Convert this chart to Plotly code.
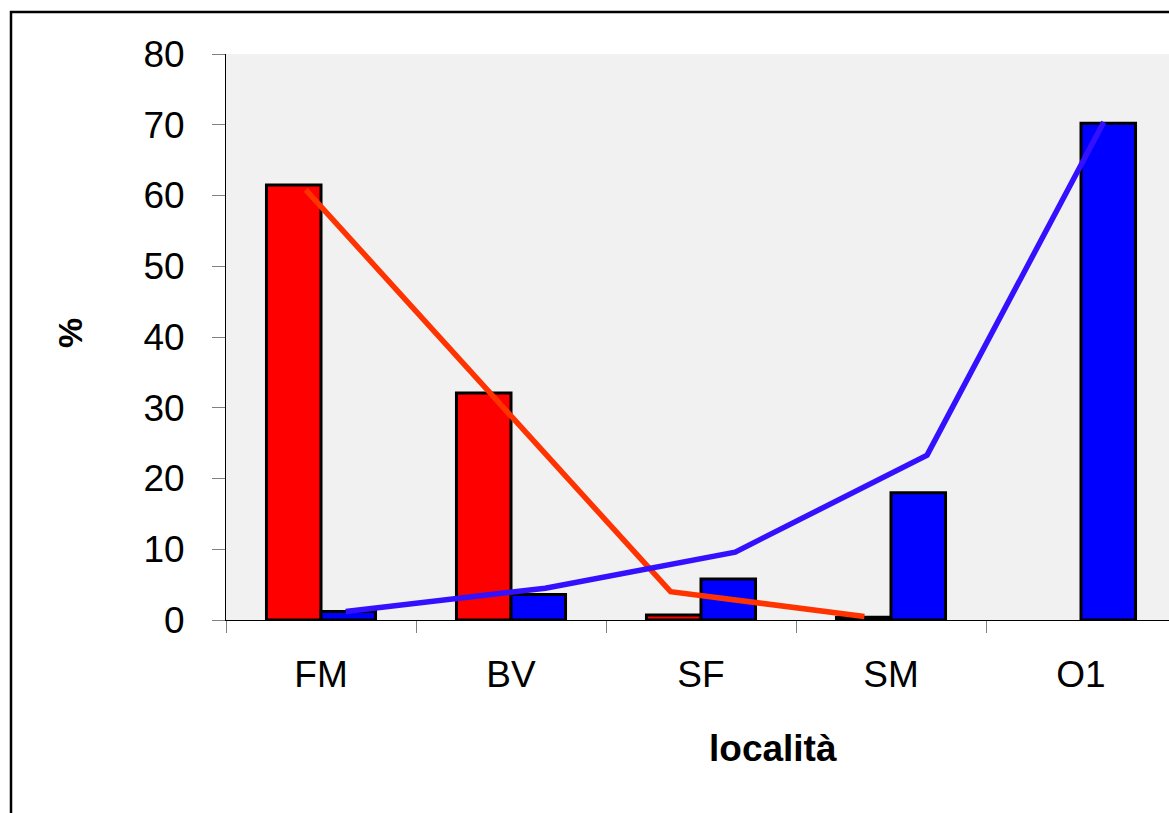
import plotly.graph_objects as go

# ---- data ----
categories = ["FM", "BV", "SF", "SM", "O1"]
red_bars = [61.5, 32.1, 0.7, 0.4, None]
blue_bars = [1.2, 3.6, 5.8, 18.0, 70.2]

# hand-drawn trend lines (x as fractional category positions)
red_line_x = [-0.08, 0.90, 1.84, 2.86]
red_line_y = [60.8, 31.8, 4.0, 0.5]
blue_line_x = [0.13, 1.18, 2.18, 3.19, 4.12]
blue_line_y = [1.2, 4.5, 9.6, 23.3, 70.4]

y_ticks = [0, 10, 20, 30, 40, 50, 60, 70, 80]

W, H = 1169, 813
L, R, T = 226, 0, 54
ph = 566
B = H - T - ph
pw = W - L - R
x_range = [-0.5, -0.5 + pw / 190.0]


def px_x(p):
    return (p - 226) / pw


def px_y(p):
    return (620 - p) / ph


fig = go.Figure()
fig.add_trace(go.Bar(x=categories, y=red_bars, marker=dict(color="#FF0000", line=dict(color="black", width=3)),
                     showlegend=False))
fig.add_trace(go.Bar(x=categories, y=blue_bars, marker=dict(color="#0000FF", line=dict(color="black", width=3)),
                     showlegend=False))
fig.add_trace(go.Scatter(x=red_line_x, y=red_line_y, mode="lines", xaxis="x2",
                         line=dict(color="#FF3300", width=5.5), showlegend=False))
fig.add_trace(go.Scatter(x=blue_line_x, y=blue_line_y, mode="lines", xaxis="x2",
                         line=dict(color="#3311FF", width=5.5), showlegend=False))

font = "Liberation Sans, Arial, sans-serif"
fig.update_layout(
    width=W, height=H,
    margin=dict(l=L, r=R, t=T, b=B),
    paper_bgcolor="white", plot_bgcolor="#F1F1F1",
    barmode="group", bargap=0.426, bargroupgap=0,
    font=dict(family=font, color="black"),
    xaxis=dict(type="category", range=x_range, tickson="boundaries", ticks="outside", ticklen=12,
               tickcolor="#808080", tickwidth=1, showline=True, linecolor="black", linewidth=1,
               showgrid=False, tickfont=dict(size=37, family=font), ticklabelstandoff=22),
    xaxis2=dict(overlaying="x", anchor="y", range=x_range, visible=False),
    yaxis=dict(range=[0, 80], tickvals=y_ticks, ticks="outside", ticklen=13, tickcolor="#808080",
               tickwidth=1, showline=True, linecolor="black", linewidth=1, showgrid=False,
               zeroline=False, tickfont=dict(size=37, family=font), ticklabelstandoff=20),
    annotations=[
        dict(text="<b>%</b>", xref="paper", yref="paper", x=px_x(70), y=px_y(333),
             textangle=-90, showarrow=False, font=dict(size=34, family=font), xanchor="center", yanchor="middle"),
        dict(text="<b>località</b>", xref="paper", yref="paper", x=px_x(773), y=px_y(748),
             showarrow=False, font=dict(size=37, family=font), xanchor="center", yanchor="middle"),
    ],
    shapes=[
        dict(type="rect", xref="paper", yref="paper", x0=px_x(11), x1=1.2,
             y0=-0.6, y1=px_y(12), line=dict(color="black", width=2.5), fillcolor="rgba(0,0,0,0)",
             layer="below"),
    ],
)

fig.write_html("out.html", config={"displayModeBar": False},
               post_script="document.body.style.margin='0';document.body.style.overflow='hidden';")
